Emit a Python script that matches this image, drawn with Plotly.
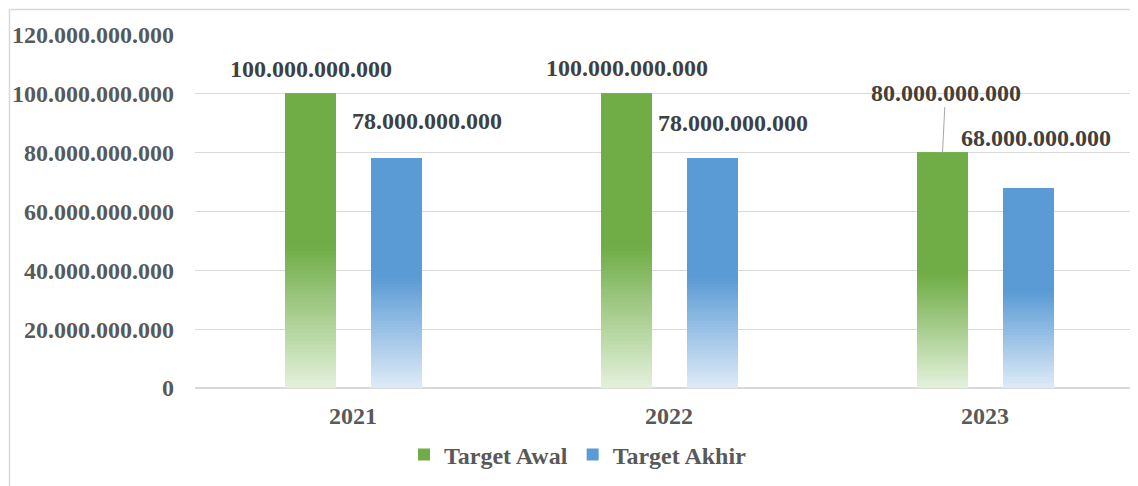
import plotly.graph_objects as go

years = ["2021", "2022", "2023"]
target_awal = [100e9, 100e9, 80e9]
target_akhir = [78e9, 78e9, 68e9]
series_names = ["Target Awal", "Target Akhir"]
y_ticks = [0, 20e9, 40e9, 60e9, 80e9, 100e9, 120e9]

FONT = "Liberation Serif, Times New Roman, serif"
TICK_COLOR = "#595959"
LABEL_COLOR = "#404040"

# page body has an 8px margin; work in screen pixels and compensate
OFF = 8
W, H = 1138 - OFF, 486 - OFF
L = 195 - OFF          # plot left (screen 195)
T = 35 - OFF           # plot top (screen 35)
BOTTOM = 388 - OFF     # plot bottom (screen 388)
B = H - BOTTOM
PH = BOTTOM - T
UNIT = 316.0  # px per category

def fmt(v):
    return f"{int(v):,}".replace(",", ".")

def lerp(c1, c2, t):
    return "rgb(%d,%d,%d)" % tuple(round(a + (b - a) * t) for a, b in zip(c1, c2))

styles = [
    dict(full=(112, 173, 71), light=(228, 241, 220), offset=-68 / UNIT),
    dict(full=(91, 155, 213), light=(222, 235, 247), offset=18 / UNIT),
]
bar_w = 51 / UNIT
x_idx = list(range(len(years)))

fig = go.Figure()
N = 36
FSTOP = 0.48
for name, vals, st in zip(series_names, [target_awal, target_akhir], styles):
    for k in range(N + 1):
        f = FSTOP * k / N
        t = min((f + FSTOP / N / 2) / FSTOP, 1.0) if k < N else 1.0
        fig.add_trace(go.Bar(
            x=x_idx, base=[v * f for v in vals], y=[v * (1 - f) for v in vals],
            width=bar_w, offset=st["offset"],
            marker=dict(color=lerp(st["light"], st["full"], t), line=dict(width=0)),
            showlegend=False, hoverinfo="skip",
        ))
    fig.add_trace(go.Bar(
        x=[None], y=[None], name=name,
        marker=dict(color=lerp(st["light"], st["full"], 1.0), line=dict(width=0)),
        showlegend=True,
    ))

# data labels
label_shift = {  # (series, idx): (xshift px, yshift px)
    (0, 0): (0, 25), (0, 1): (0, 26), (0, 2): None,
    (1, 0): (30, 38), (1, 1): (20, 36), (1, 2): (7, 50),
}
for si, vals in enumerate([target_awal, target_akhir]):
    st = styles[si]
    for i, v in enumerate(vals):
        xc = i + st["offset"] + bar_w / 2
        sh = label_shift[(si, i)]
        if sh is None:
            fig.add_annotation(
                x=xc, y=v, text=fmt(v), showarrow=True, arrowhead=0, arrowwidth=1,
                arrowcolor="#a6a6a6", ax=3, ay=-60, standoff=0,
                font=dict(family=FONT, size=24, color=LABEL_COLOR),
            )
        else:
            fig.add_annotation(
                x=xc, y=v, text=fmt(v), showarrow=False, xshift=sh[0], yshift=sh[1],
                yanchor="middle",
                font=dict(family=FONT, size=24, color=LABEL_COLOR),
            )

plot_w = W - L
fig.update_layout(
    width=W, height=H,
    margin=dict(l=L, r=0, t=T, b=B, pad=0),
    paper_bgcolor="white", plot_bgcolor="white",
    barmode="overlay",
    separators=",.",
    font=dict(family=FONT, size=24, color=TICK_COLOR),
    showlegend=True,
    legend=dict(
        orientation="h", x=(578 - OFF - L) / plot_w, xanchor="center",
        y=(BOTTOM - (455 - OFF)) / PH, yanchor="middle",
        font=dict(family=FONT, size=24, color=TICK_COLOR),
        itemsizing="constant", traceorder="normal", itemwidth=30,
    ),
    xaxis=dict(
        range=[-0.5, -0.5 + plot_w / UNIT], tickmode="array", tickvals=x_idx, ticktext=years,
        showgrid=False, zeroline=False, showline=False, ticks="",
        tickfont=dict(family=FONT, size=24, color=TICK_COLOR, weight="bold"),
        ticklabelstandoff=11,
    ),
    yaxis=dict(
        range=[0, 120e9], tickmode="array", tickvals=y_ticks, tickformat=",d",
        showgrid=True, gridcolor="#d9d9d9", gridwidth=1.3,
        zeroline=True, zerolinecolor="#d9d9d9", zerolinewidth=1.5,
        showline=False, ticks="",
        tickfont=dict(family=FONT, size=24, color=TICK_COLOR, weight="bold"),
        ticklabelstandoff=20,
    ),
)
fig.update_annotations(font_weight="bold")
fig.update_layout(legend_font_weight="bold")

# chart frame (screen x=9.5, y=9.5, extending past the right/bottom edges)
fig.add_shape(
    type="rect", xref="paper", yref="paper",
    x0=(9.5 - OFF - L) / plot_w, x1=(W + 20 - L) / plot_w,
    y0=(BOTTOM - (H + 20)) / PH, y1=(BOTTOM - (9.5 - OFF)) / PH,
    line=dict(color="#d9d9d9", width=1.5), layer="below",
)

fig.write_html("out.html")
